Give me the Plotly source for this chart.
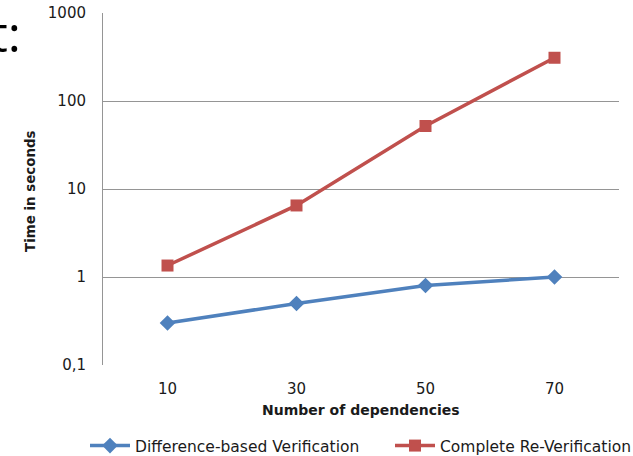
import plotly.graph_objects as go

categories = ["10", "30", "50", "70"]
diff_based = [0.3, 0.5, 0.8, 1.0]
complete_reverif = [1.35, 6.5, 52, 310]
y_tickvals = [0.1, 1, 10, 100, 1000]
y_ticktext = ["0,1", "1", "10", "100", "1000"]

FONT = "DejaVu Sans"
TXT = "#1a1a1a"
L, R, T, B = 103, 14, 13, 91
W, H = 633, 456
PW = W - L - R
PH = H - T - B

def px_x(p):
    return (p - L) / PW

def px_y(p):
    return (H - B - p) / PH

fig = go.Figure()
fig.add_trace(go.Scatter(
    x=categories, y=diff_based, mode="lines+markers",
    name="Difference-based Verification",
    line=dict(color="#4F81BD", width=3.5),
    marker=dict(symbol="diamond", size=12, color="#4F81BD"),
    legend="legend",
))
fig.add_trace(go.Scatter(
    x=categories, y=complete_reverif, mode="lines+markers",
    name="Complete Re-Verification",
    line=dict(color="#C0504D", width=3.5),
    marker=dict(symbol="square", size=12, color="#C0504D"),
    legend="legend2",
))

leg_common = dict(orientation="h", xanchor="left", yanchor="middle",
                  font=dict(family=FONT, size=15.5, color=TXT), bgcolor="rgba(0,0,0,0)",
                  itemwidth=40)

fig.update_layout(
    width=W, height=H,
    margin=dict(l=L, r=R, t=T, b=B, autoexpand=False),
    paper_bgcolor="white", plot_bgcolor="white",
    showlegend=True,
    font=dict(family=FONT, color=TXT),
    legend=dict(x=px_x(85), y=px_y(446), **leg_common),
    legend2=dict(x=px_x(390), y=px_y(446), **leg_common),
    xaxis=dict(type="category", range=[-0.5, 3.5], showgrid=False, zeroline=False,
               showline=False, ticks="", tickfont=dict(family=FONT, size=15, color=TXT),
               ticklabelstandoff=13),
    yaxis=dict(type="log", range=[-1, 3], tickvals=y_tickvals, ticktext=y_ticktext,
               showgrid=True, gridcolor="#959595", gridwidth=1, zeroline=False,
               showline=True, linecolor="#959595", linewidth=1, ticks="",
               tickfont=dict(family=FONT, size=15, color=TXT), ticklabelstandoff=13),
    annotations=[
        dict(text="<b>Number of dependencies</b>", x=0.5, y=px_y(410), xref="paper", yref="paper",
             showarrow=False, font=dict(family=FONT, size=14, color=TXT),
             xanchor="center", yanchor="middle"),
        dict(text="<b>Time in seconds</b>", x=px_x(31), y=px_y(191), xref="paper", yref="paper",
             showarrow=False, textangle=-90, font=dict(family=FONT, size=13.4, color=TXT),
             xanchor="center", yanchor="middle"),
        dict(text="t:", x=px_x(23), y=px_y(33), xref="paper", yref="paper",
             showarrow=False, font=dict(family="Open Sans", size=50, color="black"),
             xanchor="right", yanchor="middle"),
    ],
)

fig.write_html("out.html",
               config={"displayModeBar": False},
               post_script="document.body.style.margin='0';document.body.style.padding='0';")
